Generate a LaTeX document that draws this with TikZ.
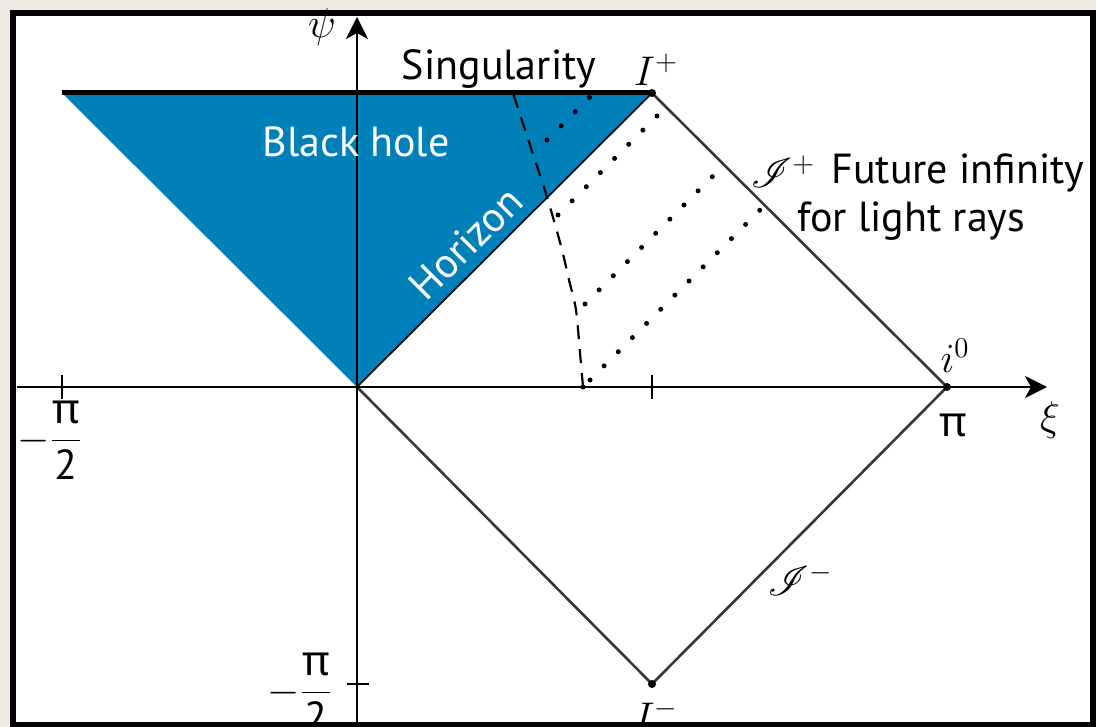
\documentclass[tikz,border=0pt]{standalone}
\usepackage{fontspec}
\usepackage{mathrsfs}
\setmainfont{PT Sans}
\newfontfamily\grfont{Noto Sans}
\usetikzlibrary{arrows.meta}
\definecolor{bgbeige}{RGB}{239,235,228}
\definecolor{bhblue}{RGB}{0,128,185}
\definecolor{edgegray}{RGB}{55,55,55}
\tikzset{
  lbl/.style={font=\fontsize{21}{25}\selectfont, inner sep=0pt},
  mlbl/.style={font=\fontsize{22}{26}\selectfont, inner sep=0pt},
  axis/.style={line width=1pt, black, -{Stealth[length=11pt,width=11pt,inset=3pt]}},
  edge/.style={line width=1.3pt, edgegray},
  ray/.style={line width=2.5pt, line cap=round, dash pattern=on 0pt off 10pt},
  worldline/.style={line width=1.1pt, dash pattern=on 7pt off 5pt},
  tickmark/.style={line width=1pt},
  spot/.style={circle, fill=black, inner sep=0pt, minimum size=4pt}
}
\begin{document}
\begin{tikzpicture}[x=0.5pt,y=-0.5pt]
\useasboundingbox (0,0) rectangle (1096,727);
\fill[bgbeige] (0,0) rectangle (1096,727);
\fill[white] (13,13) rectangle (1093,725);

% key points
\coordinate (O) at (357,387);
\coordinate (L) at (62,93);
\coordinate (Ip) at (652,93);
\coordinate (izero) at (947,387);
\coordinate (Im) at (652,684);
\coordinate (xa) at (17,387);
\coordinate (xb) at (1047,387);
\coordinate (ya) at (357,727);
\coordinate (yb) at (357,17);

% black hole region
\fill[bhblue] (L) -- (Ip) -- (O) -- cycle;
\draw[line width=0.8pt] (O) -- (Ip);

% singularity
\draw[line width=2.5pt] (L) -- (Ip);

% diamond edges
\draw[edge] (Ip) -- (izero) -- (Im) -- (O);

% axes
\draw[axis] (xa) -- (xb);
\draw[axis] (ya) -- (yb);

% ticks
\coordinate (t1) at (62,387);
\coordinate (t2) at (652,387);
\coordinate (t3) at (357,684);
\draw[tickmark] ([yshift=6pt]t1) -- ([yshift=-6pt]t1);
\draw[tickmark] ([yshift=6pt]t2) -- ([yshift=-6pt]t2);
\draw[tickmark] ([xshift=-5pt]t3) -- ([xshift=6pt]t3);

% world line (dashed)
\coordinate (w0) at (583,387);
\coordinate (w1) at (580,353);
\coordinate (w2) at (576,310);
\coordinate (w3) at (569,280);
\coordinate (w4) at (561,246);
\coordinate (w5) at (547,197);
\coordinate (w6) at (530,145);
\coordinate (w7) at (513,93);
\draw[worldline] plot[smooth] coordinates {(w0) (w1) (w2) (w3) (w4) (w5) (w6) (w7)};

% light rays (dotted)
\coordinate (r1s) at (590,380);
\coordinate (r1e) at (764.5,205.5);
\coordinate (r2s) at (585,304);
\coordinate (r2e) at (724,165);
\coordinate (r3s) at (558,215);
\coordinate (r3e) at (666,107);
\coordinate (r4s) at (547,140);
\coordinate (r4e) at (594,93);
\draw[ray] (r1s) -- (r1e);
\draw[ray] (r2s) -- (r2e);
\draw[ray] (r3s) -- (r3e);
\draw[ray] (r4s) -- (r4e);

% points
\node[spot] at (Ip) {};
\node[spot] at (izero) {};
\node[spot] at (Im) {};
\node[spot, minimum size=2.5pt] at (w0) {};

% labels
\node[lbl, anchor=base] (singlbl) at (499,80) {Singularity};
\node[mlbl] (Iplbl) at (656,70) {$I^{+}$};
\node[lbl, white, anchor=base] (bhlbl) at (356,157) {Black hole};
\node[lbl, white, rotate=45] (horlbl) at (466,243) {Horizon};
\node[mlbl] (scriplus) at (783,172) {$\mathscr{I}^{+}$};
\node[lbl, anchor=base west] (futlbl) at (831,184) {Future infinity};
\node[lbl, anchor=base west] (forlbl) at (797,231) {for light rays};
\node[mlbl] (izlbl) at (955,356) {$i^{0}$};
\node[lbl] (pilbl) at (953,425) {\grfont π};
\node[mlbl] (xilbl) at (1050,420) {$\xi$};
\node[mlbl] (psilbl) at (322,27) {$\psi$};
\node[lbl] (mpl) at (50,440) {$-\displaystyle\frac{\mbox{\grfont π}}{\mbox{2}}$};
\node[lbl] (mpb) at (300,692) {$-\displaystyle\frac{\mbox{\grfont π}}{\mbox{2}}$};
\node[mlbl] (Imlbl) at (656,716) {$I^{-}$};
\node[mlbl] (scriminus) at (800,580) {$\mathscr{I}^{-}$};

% frame
\draw[line width=3pt] (13,13) rectangle (1093,725);
\end{tikzpicture}
\end{document}
